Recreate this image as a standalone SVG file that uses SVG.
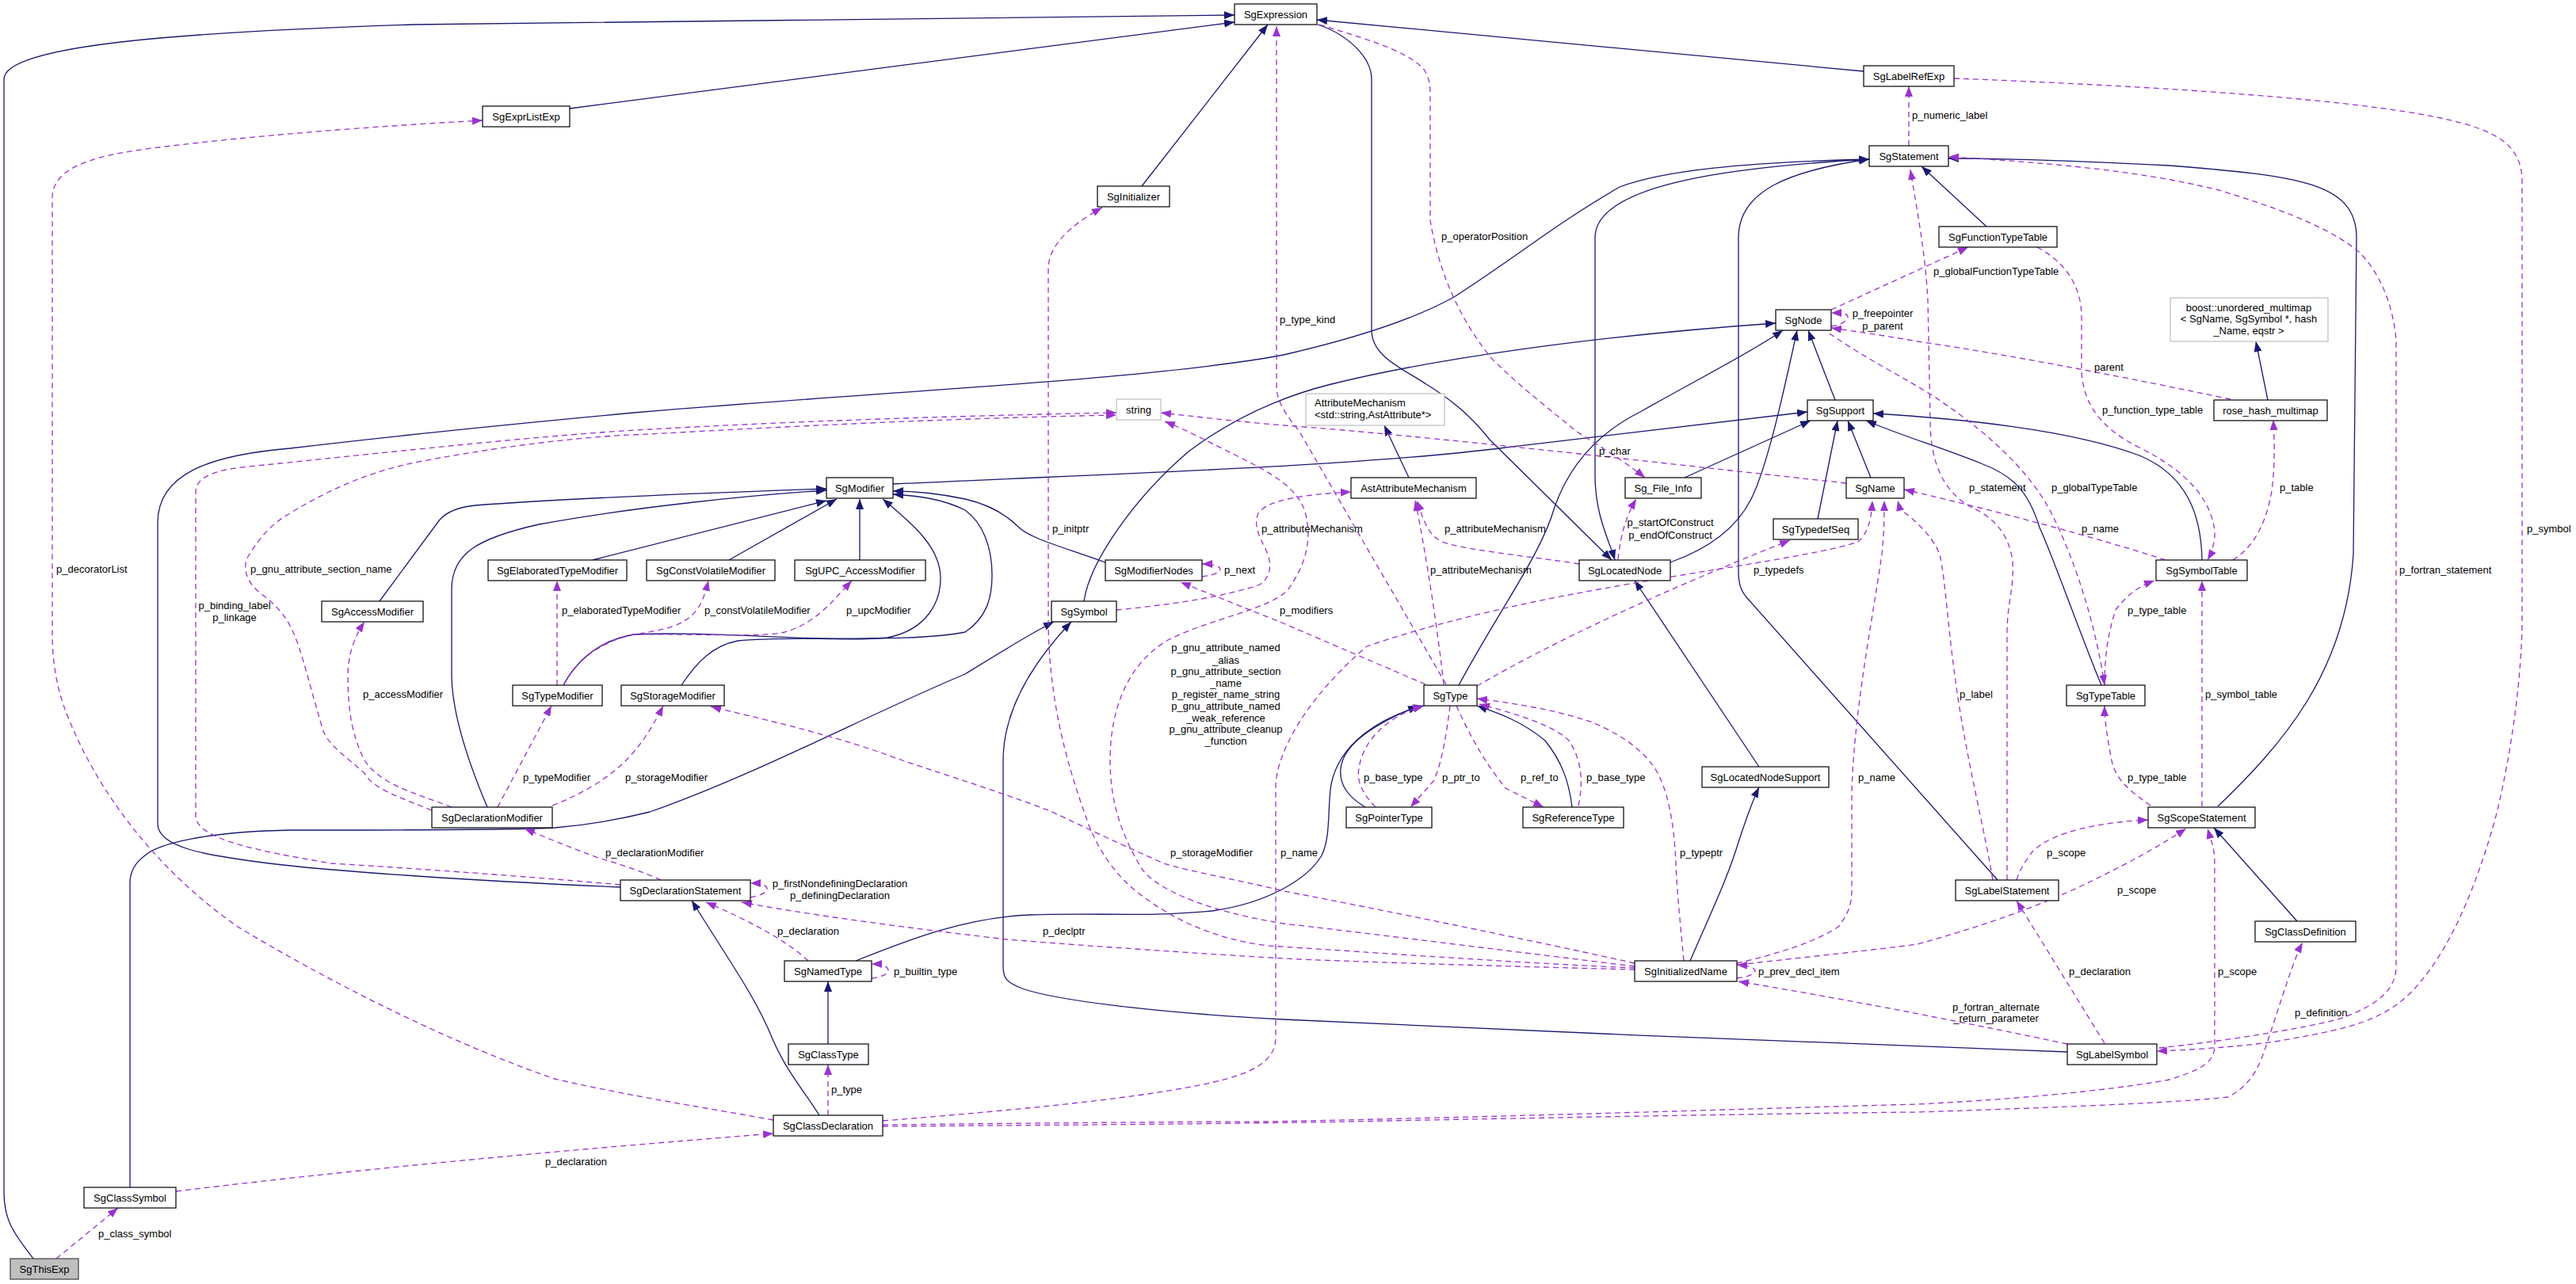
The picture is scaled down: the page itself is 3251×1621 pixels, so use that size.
<svg xmlns="http://www.w3.org/2000/svg" width="3251" height="1621" viewBox="0 0 3251 1621">
<style>
.nd rect{fill:#fff;stroke:#000;stroke-width:1.2}
.nd.gr rect{stroke:#bfbfbf}
.nd.me rect{fill:#bfbfbf;stroke:#404040}
text{font-family:"Liberation Sans",Arial,sans-serif;font-size:13px;fill:#000}
.nd text{text-anchor:middle}
.s{fill:none;stroke:#191970;stroke-width:1.3;marker-end:url(#an)}
.d{fill:none;stroke:#9a32cd;stroke-width:1.3;stroke-dasharray:7,5;marker-end:url(#ap)}
.c{text-anchor:middle}
</style>
<defs>
<marker id="an" viewBox="0 0 13 10" refX="13" refY="5" markerWidth="13" markerHeight="10" markerUnits="userSpaceOnUse" orient="auto"><path d="M0,0 L13,5 L0,10 z" fill="#191970"/></marker>
<marker id="ap" viewBox="0 0 13 10" refX="13" refY="5" markerWidth="13" markerHeight="10" markerUnits="userSpaceOnUse" orient="auto"><path d="M0,0 L13,5 L0,10 z" fill="#9a32cd"/></marker>
</defs>
<rect width="3251" height="1621" fill="#fff"/>
<g id="edges">
<path class="s" d="M42,1589 C22,1562 5,1545 5,1505 L5,100 C5,55 250,40 523,31 L1558,19"/>
<path class="s" d="M719,137 L1558,28"/>
<path class="s" d="M1441,235 L1600,31"/>
<path class="s" d="M2352,90 L1662,25"/>
<path class="s" d="M1663,31 C1705,45 1731,75 1731,100 L1731,417 C1731,450 1770,465 1800,485 C1840,510 1860,530 1880,555 L2034,707"/>
<path class="s" d="M2359,201 C2200,210 2013,230 2013,300 L2013,600 C2013,650 2030,680 2038,707"/>
<path class="s" d="M783,1120 C600,1112 420,1100 340,1090 C260,1080 199,1070 199,1040 L199,660 C199,600 260,575 366,566 C500,550 650,535 800,521 C1100,495 1450,480 1620,448 C1720,425 1790,400 1835,375 C1920,320 1960,285 2044,236 C2100,215 2200,205 2359,201"/>
<path class="s" d="M2521,1111 L2205,755 C2196,745 2194,735 2194,720 L2194,300 C2194,240 2260,215 2359,201"/>
<path class="s" d="M2507,286 L2425,210"/>
<path class="s" d="M2799,1018 C2880,940 2960,850 2970,700 L2974,300 C2974,230 2900,222 2738,209 C2600,202 2520,200 2459,200"/>
<path class="s" d="M2316,505 L2282,417"/>
<path class="s" d="M2108,710 C2150,695 2190,670 2210,630 C2230,590 2250,500 2268,417"/>
<path class="s" d="M1841,865 C1895,765 1945,700 1962,640 C1985,575 2030,540 2070,520 C2140,480 2210,445 2250,417"/>
<path class="s" d="M1368,759 C1375,710 1430,630 1500,570 C1560,525 1620,500 1680,485 C1800,455 2000,425 2241,408"/>
<path class="s" d="M1127,611 C1400,598 1700,590 1900,565 C2050,548 2200,530 2281,520"/>
<path class="s" d="M2126,603 L2285,531"/>
<path class="s" d="M2294,655 L2319,531"/>
<path class="s" d="M2361,603 L2332,531"/>
<path class="s" d="M2652,865 C2625,800 2590,700 2574,666 C2560,620 2540,600 2500,585 C2450,565 2400,550 2355,531"/>
<path class="s" d="M2779,707 C2778,650 2760,600 2700,575 C2620,545 2500,530 2364,522"/>
<path class="s" d="M2220,968 L2063,733"/>
<path class="s" d="M2133,1213 C2160,1150 2180,1110 2195,1060 C2205,1030 2212,1010 2220,994"/>
<path class="s" d="M2899,1163 L2794,1045"/>
<path class="s" d="M2609,1328 C2400,1322 1900,1300 1620,1287 C1450,1278 1330,1262 1290,1248 C1270,1240 1266,1235 1266,1220 L1266,960 C1266,900 1300,840 1352,785"/>
<path class="s" d="M164,1499 L164,1115 C164,1098 172,1088 183,1080 C200,1065 260,1050 366,1048 C500,1048 650,1048 700,1045 C760,1040 800,1030 820,1025 C950,980 1100,900 1218,851 C1260,825 1300,800 1330,785"/>
<path class="s" d="M615,1019 C590,960 570,900 570,851 L570,744 C570,700 600,680 680,662 C800,640 950,625 1043,619"/>
<path class="s" d="M479,759 L555,656 C565,645 580,640 600,638 C700,630 900,622 1043,617"/>
<path class="s" d="M748,707 L1043,632"/>
<path class="s" d="M920,707 L1056,630"/>
<path class="s" d="M1085,707 L1085,630"/>
<path class="s" d="M711,865 C730,830 760,808 800,801 C900,796 1050,812 1120,805 C1170,795 1187,760 1187,730 C1187,690 1150,660 1114,630"/>
<path class="s" d="M860,865 C880,835 900,815 931,809 C1000,802 1150,812 1218,798 C1245,780 1252,755 1252,726 C1252,690 1240,660 1218,644 C1190,630 1160,626 1127,624"/>
<path class="s" d="M1395,710 C1340,690 1300,680 1285,665 C1265,645 1240,635 1218,630 C1180,622 1150,620 1127,620"/>
<path class="s" d="M1778,603 L1747,537"/>
<path class="s" d="M2862,505 L2847,431"/>
<path class="s" d="M1080,1213 C1150,1185 1220,1158 1300,1155 C1380,1152 1450,1158 1530,1150 C1600,1140 1650,1110 1668,1080 C1680,1055 1675,1020 1680,990 C1690,940 1740,905 1797,891"/>
<path class="s" d="M1723,1019 C1700,1005 1690,990 1692,970 C1695,945 1720,920 1790,891"/>
<path class="s" d="M1984,1019 C1980,985 1970,960 1950,935 C1920,910 1890,900 1864,891"/>
<path class="s" d="M1045,1318 L1045,1239"/>
<path class="s" d="M1034,1408 C1010,1370 990,1350 970,1300 C950,1255 925,1220 873,1137"/>
<path class="d" d="M976,1414 C900,1400 800,1385 700,1362 C550,1310 400,1230 300,1170 C200,1100 120,1000 80,890 C70,860 66,830 66,800 L66,250 C66,210 120,195 209,185 C350,168 500,158 609,152"/>
<path class="d" d="M2063,1222 C1900,1215 1700,1200 1600,1194 C1530,1185 1480,1160 1440,1130 C1400,1100 1380,1060 1370,1030 C1345,960 1323,880 1323,780 L1323,340 C1323,310 1350,285 1391,262"/>
<path class="d" d="M2063,1216 C1900,1180 1700,1140 1620,1125 C1560,1110 1500,1100 1469,1090 C1400,1060 1350,1035 1323,1023 C1250,995 1150,965 1114,951 C1040,925 950,905 897,892"/>
<path class="d" d="M2063,1220 C1900,1200 1700,1175 1620,1166 C1520,1150 1450,1120 1437,1090 C1420,1060 1401,1020 1401,960 C1401,900 1420,840 1474,808 C1530,780 1600,770 1625,745 C1650,710 1655,680 1648,650 C1640,615 1600,595 1560,575 C1520,555 1495,542 1470,532"/>
<path class="d" d="M2063,1224 C1900,1220 1700,1214 1620,1210 C1450,1200 1320,1190 1271,1186 C1150,1172 1020,1155 936,1139"/>
<path class="d" d="M1114,1420 C1300,1418 1500,1416 1600,1416 C1900,1410 2200,1400 2420,1394 C2600,1385 2700,1370 2738,1363 C2780,1350 2795,1340 2795,1320 L2795,1090 C2795,1070 2790,1060 2786,1046"/>
<path class="d" d="M1114,1422 C1400,1420 1600,1418 1700,1416 C2000,1410 2300,1405 2420,1404 C2600,1398 2750,1392 2812,1385 C2840,1370 2850,1350 2860,1320 C2880,1260 2895,1210 2906,1190"/>
<path class="d" d="M1114,1415 C1300,1400 1450,1385 1532,1366 C1580,1355 1610,1340 1610,1310 L1610,994 C1610,950 1650,880 1725,816 C1800,790 1900,765 2018,744 C2150,720 2300,700 2345,684 C2360,670 2362,650 2363,632"/>
<path class="d" d="M1045,1408 L1045,1344"/>
<path class="d" d="M222,1504 C500,1470 800,1445 976,1431"/>
<path class="d" d="M71,1589 L149,1525"/>
<path class="d" d="M834,1111 C810,1100 780,1090 758,1084 C720,1070 690,1058 662,1046"/>
<path class="d" d="M570,1019 C520,1000 480,990 460,960 C445,930 439,900 439,851 C440,820 450,800 460,785"/>
<path class="d" d="M628,1019 L696,891"/>
<path class="d" d="M697,1017 C740,1000 770,980 790,960 C810,940 825,915 837,891"/>
<path class="d" d="M703,865 L703,733"/>
<path class="d" d="M711,865 C730,830 760,810 800,801 C840,795 860,790 875,775 C885,765 890,750 894,733"/>
<path class="d" d="M711,865 C730,830 760,808 800,801 C880,800 960,805 990,798 C1020,790 1040,770 1050,760 L1075,733"/>
<path class="d" d="M947,1133 C962,1130 968,1126 968,1122 C968,1118 962,1115 947,1115"/>
<path class="d" d="M1020,1213 C990,1185 940,1160 891,1139"/>
<path class="d" d="M1100,1235 C1115,1233 1121,1229 1121,1225 C1121,1221 1115,1217 1100,1217"/>
<path class="d" d="M1825,864 L1640,545 C1620,520 1611,505 1611,487 L1611,33"/>
<path class="d" d="M1799,864 C1720,830 1650,800 1620,787 L1490,735"/>
<path class="d" d="M1822,864 C1815,800 1800,700 1786,632"/>
<path class="d" d="M1993,712 C1930,702 1850,695 1820,684 C1800,675 1795,650 1788,632"/>
<path class="d" d="M1409,770 C1470,764 1540,755 1590,738 C1605,728 1605,710 1598,695 C1588,675 1582,662 1588,648 C1600,630 1650,624 1705,621"/>
<path class="d" d="M1517,728 C1533,726 1540,722 1540,719 C1540,715 1533,712 1517,712"/>
<path class="d" d="M2330,610 C2100,585 1800,550 1620,537 C1560,532 1500,525 1465,521"/>
<path class="d" d="M783,1117 C650,1105 500,1095 418,1090 C330,1075 247,1060 247,1030 L247,620 C247,600 280,592 314,589 C500,570 700,548 820,542 C1000,532 1200,525 1409,521"/>
<path class="d" d="M545,1023 C500,1005 470,995 460,976 C430,950 415,940 408,923 C395,880 385,840 377,816 C365,780 350,765 330,750 C310,735 305,715 314,701 C330,675 345,660 366,648 C420,615 470,595 523,584 C650,560 750,550 820,548 C1000,538 1200,528 1409,524"/>
<path class="d" d="M1665,31 C1720,48 1770,62 1795,85 C1803,95 1805,105 1805,120 L1805,278 C1815,340 1840,400 1882,452 C1920,490 1960,520 1990,545 C2030,570 2060,590 2076,603"/>
<path class="d" d="M2042,706 C2045,680 2050,655 2065,630"/>
<path class="d" d="M1864,866 C1960,810 2100,745 2259,682"/>
<path class="d" d="M1736,1019 C1718,1000 1712,985 1715,970 C1720,935 1750,905 1796,891"/>
<path class="d" d="M1830,891 C1825,930 1820,960 1810,985 L1780,1019"/>
<path class="d" d="M1838,891 C1860,940 1880,970 1900,995 L1948,1019"/>
<path class="d" d="M1992,1017 C1998,990 1997,960 1980,935 C1960,915 1910,900 1867,889"/>
<path class="d" d="M2125,1213 C2120,1160 2116,1120 2115,1090 C2113,1040 2105,1000 2092,976 C2075,945 2040,925 2010,912 C1960,895 1910,888 1864,882"/>
<path class="d" d="M2192,1235 C2208,1233 2215,1229 2215,1226 C2215,1222 2208,1219 2192,1218"/>
<path class="d" d="M2192,1216 C2240,1205 2290,1190 2320,1170 C2335,1150 2337,1140 2337,1120 L2337,1000 C2340,900 2360,800 2375,700 C2378,670 2378,650 2378,632"/>
<path class="d" d="M2194,1218 C2280,1208 2360,1200 2420,1192 C2500,1170 2580,1142 2640,1112 C2690,1088 2730,1065 2759,1046"/>
<path class="d" d="M2609,1318 C2500,1295 2350,1265 2194,1239"/>
<path class="d" d="M2656,1317 L2545,1137"/>
<path class="d" d="M2466,99 C2700,108 3000,125 3109,156 C3160,170 3183,190 3183,230 L3183,780 C3183,850 3170,950 3150,1030 C3120,1140 3080,1220 3035,1260 C3000,1290 2960,1300 2871,1315 C2820,1322 2770,1325 2722,1327"/>
<path class="d" d="M2725,1323 C2800,1315 2900,1300 2950,1287 C3000,1270 3024,1250 3024,1220 L3024,430 C3020,380 3000,340 2977,318 C2950,295 2900,270 2800,240 C2700,215 2580,205 2459,198"/>
<path class="d" d="M2409,184 L2409,109"/>
<path class="d" d="M2311,391 L2484,312"/>
<path class="d" d="M2311,412 C2325,410 2332,404 2332,400 C2332,396 2325,395 2311,395"/>
<path class="d" d="M2815,504 C2700,480 2550,450 2420,431 C2380,424 2340,418 2311,414"/>
<path class="d" d="M2571,312 C2605,330 2627,360 2627,400 L2627,470 C2630,510 2650,540 2700,565 C2760,595 2790,630 2795,670 C2796,685 2790,700 2786,707"/>
<path class="d" d="M2818,707 C2845,690 2860,660 2867,620 C2872,580 2870,550 2869,530"/>
<path class="d" d="M2733,707 C2650,680 2520,645 2403,618"/>
<path class="d" d="M2515,1111 C2505,1050 2480,950 2468,860 C2458,790 2455,730 2448,700 C2440,680 2425,665 2410,652 C2400,645 2397,640 2395,632"/>
<path class="d" d="M2533,1111 L2533,800 C2533,760 2542,744 2540,710 C2536,670 2510,650 2489,641 C2450,620 2436,580 2436,530 L2433,380 C2430,320 2420,270 2411,214"/>
<path class="d" d="M2545,1111 C2550,1095 2558,1085 2565,1075 C2590,1050 2650,1038 2711,1035"/>
<path class="d" d="M2309,421 C2350,450 2400,475 2440,500 C2500,540 2560,590 2590,650 C2620,710 2645,790 2656,865"/>
<path class="d" d="M2656,865 C2656,830 2660,800 2670,770 C2685,750 2700,740 2719,733"/>
<path class="d" d="M2714,1017 C2690,1000 2670,985 2665,960 C2660,935 2656,910 2656,891"/>
<path class="d" d="M2779,1018 L2779,733"/>
<text x="71" y="723">p_decoratorList</text>
<text x="316" y="723">p_gnu_attribute_section_name</text>
<text class="c" x="296" y="769">p_binding_label</text>
<text class="c" x="296" y="784">p_linkage</text>
<text x="458" y="881">p_accessModifier</text>
<text x="709" y="775">p_elaboratedTypeModifier</text>
<text x="889" y="775">p_constVolatileModifier</text>
<text x="1068" y="775">p_upcModifier</text>
<text x="1328" y="672">p_initptr</text>
<text x="660" y="986">p_typeModifier</text>
<text x="789" y="986">p_storageModifier</text>
<text x="764" y="1081">p_declarationModifier</text>
<text x="1477" y="1081">p_storageModifier</text>
<text x="1615" y="775">p_modifiers</text>
<text x="1545" y="724">p_next</text>
<text x="1592" y="672">p_attributeMechanism</text>
<text x="1823" y="672">p_attributeMechanism</text>
<text x="1805" y="724">p_attributeMechanism</text>
<text x="2018" y="574">p_char</text>
<text class="c" x="2108" y="664">p_startOfConstruct</text>
<text class="c" x="2108" y="680">p_endOfConstruct</text>
<text x="2213" y="724">p_typedefs</text>
<text x="1615" y="408">p_type_kind</text>
<text x="1819" y="303">p_operatorPosition</text>
<text x="2413" y="150">p_numeric_label</text>
<text x="2440" y="347">p_globalFunctionTypeTable</text>
<text x="2643" y="468">parent</text>
<text x="2653" y="522">p_function_type_table</text>
<text class="c" x="2376" y="400">p_freepointer</text>
<text class="c" x="2376" y="416">p_parent</text>
<text x="2485" y="620">p_statement</text>
<text x="2589" y="620">p_globalTypeTable</text>
<text x="2877" y="620">p_table</text>
<text x="2627" y="672">p_name</text>
<text x="3189" y="672">p_symbol</text>
<text x="3028" y="724">p_fortran_statement</text>
<text x="2685" y="775">p_type_table</text>
<text x="2473" y="881">p_label</text>
<text x="2783" y="881">p_symbol_table</text>
<text x="2685" y="986">p_type_table</text>
<text x="2583" y="1081">p_scope</text>
<text x="1721" y="986">p_base_type</text>
<text x="1820" y="986">p_ptr_to</text>
<text x="1919" y="986">p_ref_to</text>
<text x="2002" y="986">p_base_type</text>
<text x="2345" y="986">p_name</text>
<text x="1616" y="1081">p_name</text>
<text x="2120" y="1081">p_typeptr</text>
<text class="c" x="1547" y="822">p_gnu_attribute_named</text>
<text class="c" x="1547" y="838">_alias</text>
<text class="c" x="1547" y="852">p_gnu_attribute_section</text>
<text class="c" x="1547" y="867">_name</text>
<text class="c" x="1547" y="881">p_register_name_string</text>
<text class="c" x="1547" y="896">p_gnu_attribute_named</text>
<text class="c" x="1547" y="911">_weak_reference</text>
<text class="c" x="1547" y="925">p_gnu_attribute_cleanup</text>
<text class="c" x="1547" y="940">_function</text>
<text class="c" x="1060" y="1120">p_firstNondefiningDeclaration</text>
<text class="c" x="1060" y="1135">p_definingDeclaration</text>
<text x="981" y="1180">p_declaration</text>
<text x="1316" y="1180">p_declptr</text>
<text x="1128" y="1231">p_builtin_type</text>
<text x="2219" y="1231">p_prev_decl_item</text>
<text x="2672" y="1128">p_scope</text>
<text x="2611" y="1231">p_declaration</text>
<text x="2799" y="1231">p_scope</text>
<text class="c" x="2519" y="1276">p_fortran_alternate</text>
<text class="c" x="2519" y="1290">_return_parameter</text>
<text x="2896" y="1283">p_definition</text>
<text x="1049" y="1380">p_type</text>
<text x="688" y="1471">p_declaration</text>
<text x="124" y="1562">p_class_symbol</text>
</g>
<g id="node-SgExpression" class="nd"><rect x="1558" y="5" width="104" height="26"/><text x="1610" y="23">SgExpression</text></g>
<g id="node-SgExprListExp" class="nd"><rect x="609" y="134" width="110" height="26"/><text x="664" y="152">SgExprListExp</text></g>
<g id="node-SgInitializer" class="nd"><rect x="1385" y="235" width="91" height="26"/><text x="1430.5" y="253">SgInitializer</text></g>
<g id="node-string" class="nd gr"><rect x="1409" y="504" width="56" height="26"/><text x="1437" y="522">string</text></g>
<g id="node-SgLabelRefExp" class="nd"><rect x="2352" y="83" width="114" height="26"/><text x="2409" y="101">SgLabelRefExp</text></g>
<g id="node-SgStatement" class="nd"><rect x="2359" y="184" width="100" height="26"/><text x="2409" y="202">SgStatement</text></g>
<g id="node-SgFunctionTypeTable" class="nd"><rect x="2447" y="286" width="149" height="26"/><text x="2521.5" y="304">SgFunctionTypeTable</text></g>
<g id="node-SgNode" class="nd"><rect x="2241" y="391" width="70" height="26"/><text x="2276" y="409">SgNode</text></g>
<g id="node-boost_unordered_multimap" class="nd gr"><rect x="2739" y="376" width="199" height="55"/><text x="2838" y="393">boost::unordered_multimap</text><text x="2838" y="407">&lt; SgName, SgSymbol *, hash</text><text x="2838" y="422">_Name, eqstr &gt;</text></g>
<g id="node-rose_hash_multimap" class="nd"><rect x="2794" y="505" width="143" height="26"/><text x="2865.5" y="523">rose_hash_multimap</text></g>
<g id="node-SgSupport" class="nd"><rect x="2281" y="505" width="83" height="26"/><text x="2322.5" y="523">SgSupport</text></g>
<g id="node-AttributeMechanism" class="nd gr"><rect x="1648" y="497" width="175" height="40"/><text x="1659" y="513" style="text-anchor:start">AttributeMechanism</text><text x="1659" y="528" style="text-anchor:start">&lt;std::string,AstAttribute*&gt;</text></g>
<g id="node-SgModifier" class="nd"><rect x="1043" y="603" width="84" height="26"/><text x="1085" y="621">SgModifier</text></g>
<g id="node-AstAttributeMechanism" class="nd"><rect x="1705" y="603" width="158" height="26"/><text x="1784" y="621">AstAttributeMechanism</text></g>
<g id="node-Sg_File_Info" class="nd"><rect x="2051" y="603" width="96" height="26"/><text x="2099" y="621">Sg_File_Info</text></g>
<g id="node-SgName" class="nd"><rect x="2330" y="603" width="73" height="26"/><text x="2366.5" y="621">SgName</text></g>
<g id="node-SgSymbolTable" class="nd"><rect x="2721" y="707" width="115" height="26"/><text x="2778.5" y="725">SgSymbolTable</text></g>
<g id="node-SgTypedefSeq" class="nd"><rect x="2238" y="655" width="107" height="26"/><text x="2291.5" y="673">SgTypedefSeq</text></g>
<g id="node-SgLocatedNode" class="nd"><rect x="1993" y="707" width="115" height="26"/><text x="2050.5" y="725">SgLocatedNode</text></g>
<g id="node-SgElaboratedTypeModifier" class="nd"><rect x="616" y="707" width="175" height="26"/><text x="703.5" y="725">SgElaboratedTypeModifier</text></g>
<g id="node-SgConstVolatileModifier" class="nd"><rect x="816" y="707" width="162" height="26"/><text x="897" y="725">SgConstVolatileModifier</text></g>
<g id="node-SgUPC_AccessModifier" class="nd"><rect x="1003" y="707" width="165" height="26"/><text x="1085.5" y="725">SgUPC_AccessModifier</text></g>
<g id="node-SgModifierNodes" class="nd"><rect x="1395" y="707" width="122" height="26"/><text x="1456" y="725">SgModifierNodes</text></g>
<g id="node-SgAccessModifier" class="nd"><rect x="406" y="759" width="128" height="26"/><text x="470" y="777">SgAccessModifier</text></g>
<g id="node-SgSymbol" class="nd"><rect x="1327" y="759" width="82" height="26"/><text x="1368" y="777">SgSymbol</text></g>
<g id="node-SgTypeModifier" class="nd"><rect x="647" y="865" width="113" height="26"/><text x="703.5" y="883">SgTypeModifier</text></g>
<g id="node-SgStorageModifier" class="nd"><rect x="784" y="865" width="130" height="26"/><text x="849" y="883">SgStorageModifier</text></g>
<g id="node-SgType" class="nd"><rect x="1797" y="865" width="67" height="26"/><text x="1830.5" y="883">SgType</text></g>
<g id="node-SgTypeTable" class="nd"><rect x="2608" y="865" width="99" height="26"/><text x="2657.5" y="883">SgTypeTable</text></g>
<g id="node-SgDeclarationModifier" class="nd"><rect x="545" y="1019" width="152" height="26"/><text x="621" y="1037">SgDeclarationModifier</text></g>
<g id="node-SgPointerType" class="nd"><rect x="1699" y="1019" width="108" height="26"/><text x="1753" y="1037">SgPointerType</text></g>
<g id="node-SgReferenceType" class="nd"><rect x="1922" y="1019" width="127" height="26"/><text x="1985.5" y="1037">SgReferenceType</text></g>
<g id="node-SgLocatedNodeSupport" class="nd"><rect x="2148" y="968" width="160" height="26"/><text x="2228" y="986">SgLocatedNodeSupport</text></g>
<g id="node-SgScopeStatement" class="nd"><rect x="2711" y="1019" width="135" height="26"/><text x="2778.5" y="1037">SgScopeStatement</text></g>
<g id="node-SgDeclarationStatement" class="nd"><rect x="783" y="1111" width="164" height="26"/><text x="865" y="1129">SgDeclarationStatement</text></g>
<g id="node-SgNamedType" class="nd"><rect x="990" y="1213" width="110" height="26"/><text x="1045" y="1231">SgNamedType</text></g>
<g id="node-SgClassType" class="nd"><rect x="995" y="1318" width="101" height="26"/><text x="1045.5" y="1336">SgClassType</text></g>
<g id="node-SgClassDeclaration" class="nd"><rect x="976" y="1408" width="138" height="26"/><text x="1045" y="1426">SgClassDeclaration</text></g>
<g id="node-SgClassSymbol" class="nd"><rect x="106" y="1499" width="116" height="26"/><text x="164" y="1517">SgClassSymbol</text></g>
<g id="node-SgThisExp" class="nd me"><rect x="13" y="1589" width="86" height="26"/><text x="56" y="1607">SgThisExp</text></g>
<g id="node-SgInitializedName" class="nd"><rect x="2063" y="1213" width="129" height="26"/><text x="2127.5" y="1231">SgInitializedName</text></g>
<g id="node-SgLabelStatement" class="nd"><rect x="2468" y="1111" width="130" height="26"/><text x="2533" y="1129">SgLabelStatement</text></g>
<g id="node-SgClassDefinition" class="nd"><rect x="2846" y="1163" width="127" height="26"/><text x="2909.5" y="1181">SgClassDefinition</text></g>
<g id="node-SgLabelSymbol" class="nd"><rect x="2609" y="1318" width="113" height="26"/><text x="2665.5" y="1336">SgLabelSymbol</text></g>
</svg>
